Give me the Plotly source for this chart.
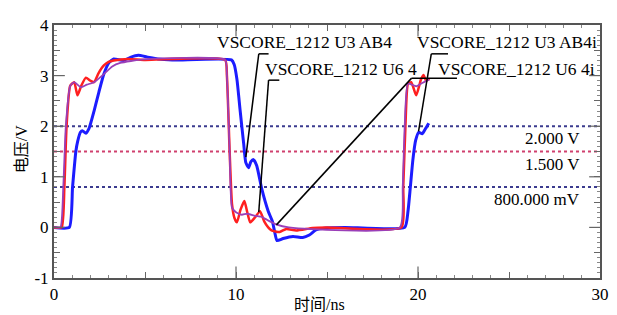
import plotly.graph_objects as go

# ---------------- data ----------------
t_blue = [0, 0.84, 1.02, 1.20, 1.30, 1.45, 1.56, 1.75, 1.92, 2.20, 2.47, 2.74, 3.01, 3.28,
          3.82, 4.2, 4.63, 5.1, 5.7, 6.5, 9.75, 9.9, 10.05, 10.23, 10.42, 10.54, 10.69,
          10.82, 10.96, 11.14, 11.41, 11.77, 12.0, 12.13, 12.25, 12.59, 13.13, 13.67,
          14.03, 14.39, 14.93, 16.0, 19.27, 19.45, 19.58, 19.72, 19.87, 20.04, 20.23,
          20.41, 20.59]
v_blue = [0, 0, 0.8, 1.5, 1.7, 1.88, 1.91, 1.86, 1.95, 2.30, 2.68, 3.03, 3.25, 3.33,
          3.30, 3.36, 3.40, 3.37, 3.33, 3.31, 3.31, 3.22, 2.93, 2.30, 1.66, 1.28, 1.18,
          1.30, 1.34, 1.22, 0.77, 0.32, 0.12, -0.10, -0.26, -0.22, -0.18, -0.20,
          -0.15, -0.05, -0.01, 0, 0, 0.32, 0.80, 1.34, 1.72, 1.88, 1.85,
          1.95, 2.06]

t_red = [0, 0.42, 0.57, 0.69, 0.89, 1.11, 1.29, 1.5, 1.75, 2.0, 2.2, 2.45, 2.74, 3.0,
         3.28, 4.1, 5.0, 9.40, 9.50, 9.65, 9.78, 9.92, 10.05, 10.25, 10.46, 10.62,
         10.78, 11.05, 11.32, 11.55, 11.77, 11.95, 12.40, 12.76, 13.31, 14.21, 15.0,
         19.09, 19.19, 19.31, 19.45, 19.63, 19.90, 20.17, 20.31, 20.44, 20.62]
v_red = [0, 0, 0.8, 2.0, 2.8, 2.87, 2.61, 2.80, 2.96, 2.90, 2.87, 3.05, 3.20, 3.27,
         3.30, 3.33, 3.31, 3.31, 3.0, 1.5, 0.46, 0.18, 0.10, 0.35, 0.52, 0.30,
         0.10, 0.20, 0.32, 0.12, 0.0, -0.06, -0.09, -0.03, -0.06, -0.01, 0,
         0, 0.8, 2.0, 2.84, 2.87, 2.61, 2.93, 3.01, 2.90, 2.94]

t_purple = [0, 0.35, 0.51, 0.65, 0.89, 1.11, 1.47, 1.8, 2.2, 2.74, 3.2, 3.64, 4.9,
            9.40, 9.50, 9.65, 9.78, 10.0, 10.32, 10.6, 11.05, 11.4, 11.7, 12.2, 12.9,
            19.0, 19.16, 19.27, 19.45, 19.90, 20.26, 20.62]
v_purple = [0, 0, 0.8, 2.0, 2.8, 2.87, 2.77, 2.82, 2.87, 3.03, 3.18, 3.25, 3.32,
            3.31, 3.0, 1.5, 0.39, 0.30, 0.25, 0.27, 0.23, 0.21, 0.15, 0.06, 0.0,
            0, 0.8, 2.0, 2.84, 2.79, 2.86, 2.92]

# threshold levels and their labels
levels = [2.0, 1.5, 0.8]
level_labels = ["2.000 V", "1.500 V", "800.000 mV"]
level_colors = ["#3b3b8f", "#d0406e", "#3b3b8f"]

# probe labels: text, label position (x, y), leader corner, leader end
probe_labels = ["VSCORE_1212 U3 AB4", "VSCORE_1212 U6 4",
                "VSCORE_1212 U3 AB4i", "VSCORE_1212 U6 4i"]
label_x = [8.86, 11.50, 19.81, 20.99]
label_y = [3.66, 3.14, 3.66, 3.14]
corner_x = [11.25, 11.79, 20.73, 19.65]
corner_y = [3.43, 2.91, 3.43, 2.95]
bar_end_x = [11.79, 12.38, 21.65, 22.14]
target_x = [10.54, 11.25, 20.03, 12.22]
target_y = [1.39, 0.30, 1.90, 0.05]

x_ticks = [0, 5, 10, 15, 20, 25, 30]
x_ticktext = ["0", "", "10", "", "20", "", "30"]
y_ticks = [-1, -0.5, 0, 0.5, 1, 1.5, 2, 2.5, 3, 3.5, 4]
y_ticktext = ["-1", "", "0", "", "1", "", "2", "", "3", "", "4"]

SERIF = "Liberation Serif"
CJK = "Liberation Serif, Noto Sans CJK SC"

fig = go.Figure()
fig.add_trace(go.Scatter(x=t_blue, y=v_blue, mode="lines",
                         line=dict(color="#1c1cff", width=3, shape="spline", smoothing=0.5)))
fig.add_trace(go.Scatter(x=t_red, y=v_red, mode="lines",
                         line=dict(color="#ff1f1f", width=2.5, shape="spline", smoothing=0.5)))
fig.add_trace(go.Scatter(x=t_purple, y=v_purple, mode="lines",
                         line=dict(color="#9a3fb8", width=1.8, shape="spline", smoothing=0.5)))

shapes = []
for lv, col in zip(levels, level_colors):
    shapes.append(dict(type="line", xref="paper", yref="y", x0=0, x1=1, y0=lv, y1=lv,
                       line=dict(color=col, width=2, dash="dot"), layer="below"))

# leader lines
for cx, cy, bx, tx, ty in zip(corner_x, corner_y, bar_end_x, target_x, target_y):
    shapes.append(dict(type="line", xref="x", yref="y", x0=cx, y0=cy, x1=bx, y1=cy,
                       line=dict(color="black", width=1.5)))
    shapes.append(dict(type="line", xref="x", yref="y", x0=cx, y0=cy, x1=tx, y1=ty,
                       line=dict(color="black", width=1.5)))

# longer ticks at major values
for xv in x_ticks[2:-1:2]:
    for y0, y1 in [(0, 12 / 262), (1, 1 - 12 / 262)]:
        shapes.append(dict(type="line", xref="x", yref="paper", x0=xv, x1=xv, y0=y0, y1=y1,
                           line=dict(color="#666", width=1.2)))
for yv in [0, 1, 2, 3]:
    for x0, x1 in [(0, 11 / 554), (1, 1 - 11 / 554)]:
        shapes.append(dict(type="line", xref="paper", yref="y", x0=x0, x1=x1, y0=yv, y1=yv,
                           line=dict(color="#666", width=1.2)))

annotations = []
for txt, lx, ly in zip(probe_labels, label_x, label_y):
    annotations.append(dict(x=lx, y=ly, xref="x", yref="y", text=txt, showarrow=False,
                            xanchor="left", yanchor="middle",
                            font=dict(family=SERIF, size=17.5, color="black")))
for lv, txt in zip(levels, level_labels):
    annotations.append(dict(x=29.0, y=lv, xref="x", yref="y", text=txt, showarrow=False,
                            xanchor="right", yanchor="top", yshift=-1,
                            font=dict(family=SERIF, size=17, color="black")))
annotations.append(dict(x=0.486, y=-0.103, xref="paper", yref="paper", text="时间/ns",
                        showarrow=False, xanchor="center", yanchor="middle",
                        font=dict(family=CJK, size=16, color="black")))
annotations.append(dict(x=-0.058, y=0.51, xref="paper", yref="paper", text="电压/V",
                        showarrow=False, xanchor="center", yanchor="middle", textangle=-90,
                        font=dict(family=CJK, size=16, color="black")))

axis_common = dict(showgrid=False, zeroline=False, showline=True, linecolor="#555",
                   linewidth=2, mirror="ticks", ticks="inside", ticklen=6, tickwidth=1.2,
                   tickcolor="#666", tickfont=dict(family=SERIF, size=17, color="black"))

# the page body adds an 8 px margin, so the figure is sized to fit the window
fig.update_layout(
    width=609, height=307,
    margin=dict(l=46, r=9, t=8, b=37),
    paper_bgcolor="white", plot_bgcolor="white",
    showlegend=False,
    font=dict(family=SERIF),
    shapes=shapes, annotations=annotations,
    xaxis=dict(range=[0, 30], tickmode="array", tickvals=x_ticks, ticktext=x_ticktext,
               minor=dict(tickmode="linear", tick0=0, dtick=1, ticks="inside", ticklen=3,
                          tickcolor="#888"),
               **axis_common),
    yaxis=dict(range=[-1, 4], tickmode="array", tickvals=y_ticks, ticktext=y_ticktext,
               minor=dict(tickmode="linear", tick0=0, dtick=0.1, ticks="inside", ticklen=3,
                          tickcolor="#888"),
               **axis_common),
)

fig.write_html("out.html")
